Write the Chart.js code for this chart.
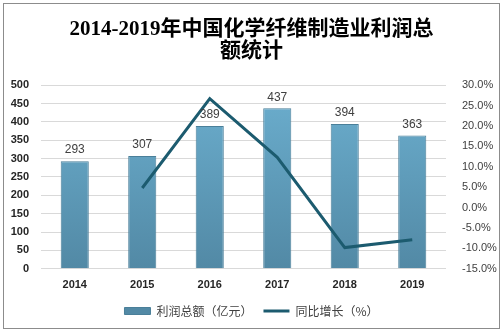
<!DOCTYPE html>
<html>
<head>
<meta charset="utf-8">
<script src="https://cdn.jsdelivr.net/npm/chart.js@4.4.0/dist/chart.umd.min.js"></script>
<style>
  html, body { margin: 0; padding: 0; background: #fff; }
  #wrap { width: 503px; height: 334px; position: relative; }
</style>
</head>
<body>
<div id="wrap"><canvas id="chart" width="503" height="334"></canvas></div>
<script>
const years = ['2014', '2015', '2016', '2017', '2018', '2019'];
const profit = [293, 307, 389, 437, 394, 363];
const growth = [null, 4.8, 26.7, 12.3, -9.8, -7.9];
const leftTicks = [0, 50, 100, 150, 200, 250, 300, 350, 400, 450, 500];
const rightTicks = [-15, -10, -5, 0, 5, 10, 15, 20, 25, 30];

function barFill(context) {
    const chart = context.chart;
    const area = chart.chartArea;
    if (!area) return '#5f9fbf';
    const g = chart.ctx.createLinearGradient(0, area.top, 0, area.bottom);
    g.addColorStop(0, '#6cafcf');
    g.addColorStop(1, '#5289a5');
    return g;
}

// frame round the picture and value labels above the bars
const extras = {
    id: 'extras',
    afterDatasetsDraw(chart) {
        const ctx = chart.ctx;
        const meta = chart.getDatasetMeta(1);
        ctx.save();
        ctx.font = '12px "Liberation Sans", Arial, sans-serif';
        ctx.fillStyle = '#404040';
        ctx.textAlign = 'center';
        ctx.textBaseline = 'bottom';
        meta.data.forEach((bar, i) => {
            ctx.fillText(String(profit[i]), bar.x, bar.y - 5);
        });
        ctx.restore();
    },
    afterDraw(chart) {
        const ctx = chart.ctx;
        ctx.save();
        ctx.strokeStyle = '#8c8c8c';
        ctx.lineWidth = 1;
        ctx.strokeRect(3.5, 3.5, 496, 325);
        ctx.restore();
    }
};

new Chart(document.getElementById('chart'), {
    data: {
        labels: years,
        datasets: [
            {
                type: 'line',
                label: '同比增长（%）',
                data: growth,
                yAxisID: 'y1',
                borderColor: '#1c5b6f',
                backgroundColor: '#1c5b6f',
                borderWidth: 3,
                pointRadius: 0,
                pointStyle: 'line',
                tension: 0,
                order: 0
            },
            {
                type: 'bar',
                label: '利润总额（亿元）',
                data: profit,
                yAxisID: 'y',
                backgroundColor: barFill,
                borderColor: '#4a7f99',
                borderWidth: 1,
                barPercentage: 0.52,
                categoryPercentage: 0.8,
                pointStyle: 'rect',
                order: 1
            }
        ]
    },
    options: {
        responsive: false,
        animation: false,
        layout: { padding: { top: 11, left: 0, right: 0, bottom: 7 } },
        plugins: {
            title: {
                display: true,
                text: ['2014-2019年中国化学纤维制造业利润总', '额统计'],
                color: '#000',
                font: { family: '"Liberation Serif", "Noto Sans CJK SC", serif', size: 21, weight: 'bold', lineHeight: 1.05 },
                padding: { top: 8, bottom: 22 }
            },
            legend: {
                position: 'bottom',
                reverse: true,
                labels: {
                    usePointStyle: true,
                    pointStyleWidth: 26,
                    boxWidth: 26,
                    boxHeight: 7,
                    color: '#404040',
                    padding: 11,
                    font: { family: '"Noto Sans CJK SC", sans-serif', size: 12 }
                }
            },
            tooltip: { enabled: false }
        },
        scales: {
            x: {
                grid: { display: false },
                border: { display: false },
                ticks: {
                    color: '#262626',
                    padding: 2,
                    font: { family: '"Liberation Sans", Arial, sans-serif', size: 11, weight: 'bold' }
                }
            },
            y: {
                position: 'left',
                min: 0,
                max: 500,
                afterBuildTicks(scale) { scale.ticks = leftTicks.map(v => ({ value: v })); },
                afterFit(scale) { scale.width = 41; },
                grid: { color: '#d9d9d9', drawTicks: false },
                border: { display: false },
                ticks: {
                    color: '#262626',
                    padding: 12,
                    font: { family: '"Liberation Sans", Arial, sans-serif', size: 11, weight: 'bold' }
                }
            },
            y1: {
                position: 'right',
                min: -15,
                max: 30,
                afterBuildTicks(scale) { scale.ticks = rightTicks.map(v => ({ value: v })); },
                afterFit(scale) { scale.width = 57; },
                grid: { display: false },
                border: { display: false },
                ticks: {
                    color: '#404040',
                    padding: 8,
                    font: { family: '"Liberation Sans", Arial, sans-serif', size: 11 },
                    callback: v => v.toFixed(1) + '%'
                }
            }
        }
    },
    plugins: [extras]
});
</script>
</body>
</html>
